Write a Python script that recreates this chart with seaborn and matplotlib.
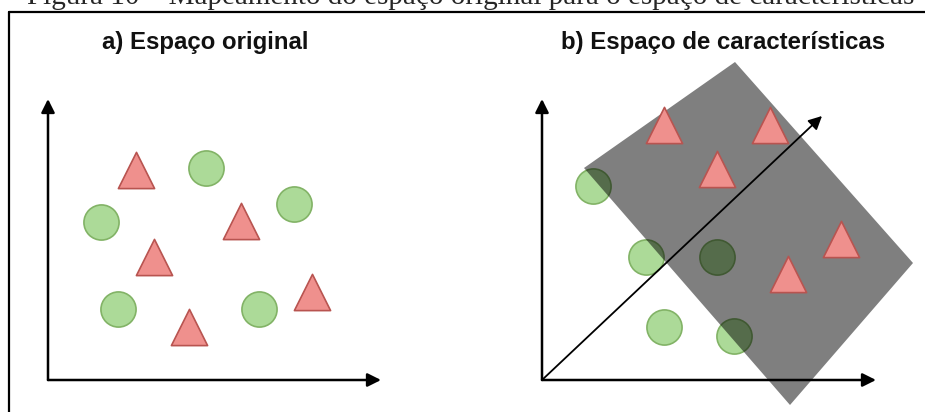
import matplotlib
matplotlib.use("Agg")
import matplotlib.pyplot as plt
import seaborn as sns
import pandas as pd

sns.set_style("white")

# Caption and panel titles
caption = "Figura 10 – Mapeamento do espaço original para o espaço de características"
titles = ["a) Espaço original", "b) Espaço de características"]
title_x = [205, 723]

# Panel a) - original space (pixel coordinates, y grows downwards)
a_circle_x = [206, 101, 294, 118, 259]
a_circle_y = [168, 222, 204, 309, 309]
a_tri_x = [136, 241, 154, 312, 189]
a_tri_y = [170, 221, 257, 292, 327]

# Panel b) - feature space
b_circle_x = [593, 646, 717, 664, 734]
b_circle_y = [186, 257, 257, 327, 336]
b_tri_x = [664, 770, 717, 841, 788]
b_tri_y = [125, 125, 169, 239, 274]

# Separating region in feature space
region_x = [735, 913, 790, 584]
region_y = [62, 263, 405, 168]

# Axes of each panel: origin, x end, y end
origins = [(48, 380), (542, 380)]
x_ends = [(381, 380), (876, 380)]
y_ends = [(48, 99), (542, 99)]
diag_end = (822, 116)

circles = pd.DataFrame({
    "x": a_circle_x + b_circle_x,
    "y": a_circle_y + b_circle_y,
})
triangles = pd.DataFrame({
    "x": a_tri_x + b_tri_x,
    "y": a_tri_y + b_tri_y,
})

fig = plt.figure(figsize=(9.25, 4.12), dpi=100)
ax = fig.add_axes([0, 0, 1, 1])
ax.set_xlim(0, 925)
ax.set_ylim(412, 0)
ax.axis("off")

# circles sit below the grey region
sns.scatterplot(data=circles, x="x", y="y", ax=ax, marker="o", s=640,
                color="#acda98", edgecolor="#82b366", linewidth=1.2,
                zorder=2, legend=False)

ax.fill(region_x, region_y, color="black", alpha=0.5, lw=0, zorder=3)

# triangles are drawn on top of the region
sns.scatterplot(data=triangles, x="x", y="y", ax=ax, marker="^", s=680,
                color="#ef908d", edgecolor="#b85450", linewidth=1.2,
                zorder=4, legend=False)

arrow = dict(arrowstyle="-|>", color="black", lw=1.8, mutation_scale=20,
             shrinkA=0, shrinkB=0)
for o, xe, ye in zip(origins, x_ends, y_ends):
    ax.annotate("", xy=xe, xytext=o, arrowprops=arrow, zorder=5)
    ax.annotate("", xy=ye, xytext=o, arrowprops=arrow, zorder=5)
thin = dict(arrow, lw=1.3)
ax.annotate("", xy=diag_end, xytext=origins[1], arrowprops=thin, zorder=5)

# frame of the figure box
ax.plot([9, 925], [12, 12], color="black", lw=1.6, zorder=6)
ax.plot([9, 9], [12, 412], color="black", lw=1.6, zorder=6)

for t, x in zip(titles, title_x):
    ax.text(x, 49, t, ha="center", va="baseline", fontsize=17.3,
            fontweight="bold", family="Liberation Sans", color="#111111",
            zorder=6)

ax.text(471, 4, caption, ha="center", va="baseline", fontsize=21,
        family="Liberation Serif", zorder=6)

fig.savefig("out.png", dpi=100)
